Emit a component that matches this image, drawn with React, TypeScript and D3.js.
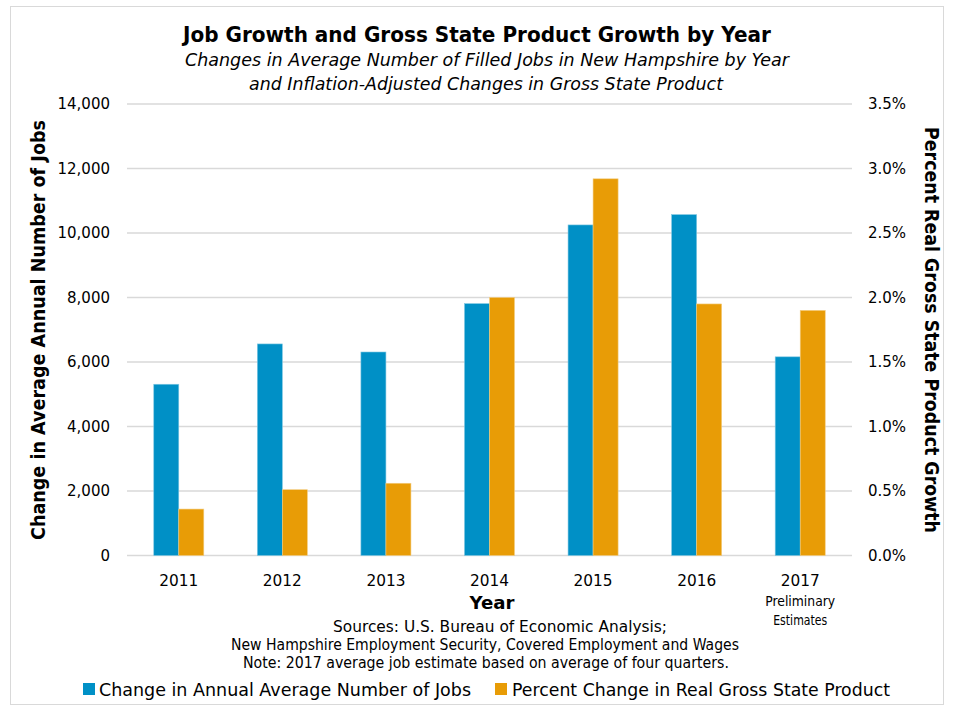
import React from "react";
import * as d3 from "d3";

const years = ["2011", "2012", "2013", "2014", "2015", "2016", "2017"];
const jobsChange = [5310, 6560, 6310, 7810, 10250, 10570, 6160];
const gspChange = [0.36, 0.51, 0.56, 2.0, 2.92, 1.95, 1.9];
const leftTicks = [0, 2000, 4000, 6000, 8000, 10000, 12000, 14000];
const rightTicks = [0, 0.5, 1.0, 1.5, 2.0, 2.5, 3.0, 3.5];
const seriesNames = ["Change in Annual Average Number of Jobs", "Percent Change in Real Gross State Product"];

const W = 953;
const H = 711;
const M = { left: 127, right: 852, top: 104, bottom: 555.5 };
const BLUE = "#0090c6";
const ORANGE = "#e89c06";
const FONT = "'DejaVu Sans', Verdana, sans-serif";

export default function App() {
  const x = d3.scaleBand<string>().domain(years).range([M.left, M.right]).padding(0);
  const inner = d3.scaleBand<string>().domain(["jobs", "gsp"]).range([0, x.bandwidth()]).paddingInner(0).paddingOuter(1.07);
  const yL = d3.scaleLinear().domain([0, 14000]).range([M.bottom, M.top]);
  const yR = d3.scaleLinear().domain([0, 3.5]).range([M.bottom, M.top]);
  const fmtL = d3.format(",");
  const fmtR = (v: number) => d3.format(".1f")(v) + "%";
  const c2017 = x("2017")! + x.bandwidth() / 2;

  return (
    <svg width={W} height={H} style={{ position: "absolute", left: 0, top: 0, background: "#fff" }} fontFamily={FONT}>
      <rect x={10.5} y={6.5} width={933} height={698} fill="#fff" stroke="#d9d9d9" strokeWidth={1} />
      {/* title */}
      <text x={477} y={42} textAnchor="middle" fontSize={21} fontWeight="bold" fill="#000" textLength={588} lengthAdjust="spacingAndGlyphs">
        Job Growth and Gross State Product Growth by Year
      </text>
      <text x={487} y={66} textAnchor="middle" fontSize={18} fontStyle="italic" fill="#000" textLength={604} lengthAdjust="spacingAndGlyphs">
        Changes in Average Number of Filled Jobs in New Hampshire by Year
      </text>
      <text x={486} y={90} textAnchor="middle" fontSize={18} fontStyle="italic" fill="#000" textLength={474} lengthAdjust="spacingAndGlyphs">
        and Inflation-Adjusted Changes in Gross State Product
      </text>

      {/* gridlines */}
      {leftTicks.map((t) => (
        <line key={"g" + t} x1={M.left} x2={M.right} y1={yL(t)} y2={yL(t)} stroke="#d9d9d9" strokeWidth={1.5} />
      ))}
      {/* left ticks */}
      {leftTicks.map((t) => (
        <text key={"l" + t} x={110} y={yL(t)} dy="0.35em" textAnchor="end" fontSize={15} fill="#000">
          {fmtL(t)}
        </text>
      ))}
      {rightTicks.map((t) => (
        <text key={"r" + t} x={868} y={yR(t)} dy="0.35em" textAnchor="start" fontSize={15} fill="#000">
          {fmtR(t)}
        </text>
      ))}

      {/* bars */}
      {years.map((yr, i) => {
        const x0 = x(yr)!;
        return (
          <g key={yr}>
            <rect x={x0 + inner("jobs")!} y={yL(jobsChange[i])} width={inner.bandwidth()} height={M.bottom - yL(jobsChange[i])} fill={BLUE} stroke="#7fc7e2" strokeWidth={0.6} />
            <rect x={x0 + inner("gsp")!} y={yR(gspChange[i])} width={inner.bandwidth()} height={M.bottom - yR(gspChange[i])} fill={ORANGE} stroke="#f3cd82" strokeWidth={0.6} />
          </g>
        );
      })}

      {/* x labels */}
      {years.map((yr) => (
        <text key={"x" + yr} x={x(yr)! + x.bandwidth() / 2} y={586} textAnchor="middle" fontSize={16} fill="#000" textLength={39} lengthAdjust="spacingAndGlyphs">
          {yr}
        </text>
      ))}
      <text x={c2017} y={606} textAnchor="middle" fontSize={14.5} fill="#000" textLength={70} lengthAdjust="spacingAndGlyphs">Preliminary</text>
      <text x={c2017} y={625} textAnchor="middle" fontSize={14.5} fill="#000" textLength={54} lengthAdjust="spacingAndGlyphs">Estimates</text>

      <text x={492} y={609} textAnchor="middle" fontSize={18} fontWeight="bold" fill="#000" textLength={45} lengthAdjust="spacingAndGlyphs">Year</text>

      <text x={333} y={632} textAnchor="start" fontSize={15} fill="#000" textLength={334} lengthAdjust="spacingAndGlyphs">Sources: U.S. Bureau of Economic Analysis;</text>
      <text x={231} y={650} textAnchor="start" fontSize={15} fill="#000" textLength={508} lengthAdjust="spacingAndGlyphs">New Hampshire Employment Security, Covered Employment and Wages</text>
      <text x={243} y={668} textAnchor="start" fontSize={15} fill="#000" textLength={486} lengthAdjust="spacingAndGlyphs">Note: 2017 average job estimate based on average of four quarters.</text>

      {/* axis titles */}
      <text transform="translate(45,330) rotate(-90)" textAnchor="middle" fontSize={19} fontWeight="bold" fill="#000" textLength={420} lengthAdjust="spacingAndGlyphs">
        Change in Average Annual Number of Jobs
      </text>
      <text transform="translate(925,330) rotate(90)" textAnchor="middle" fontSize={19} fontWeight="bold" fill="#000" textLength={406} lengthAdjust="spacingAndGlyphs">
        Percent Real Gross State Product Growth
      </text>

      {/* legend */}
      <rect x={83} y={683} width={12} height={12} fill={BLUE} />
      <text x={99} y={696} fontSize={18} fill="#000" textLength={372} lengthAdjust="spacingAndGlyphs">{seriesNames[0]}</text>
      <rect x={495} y={683} width={12} height={12} fill={ORANGE} />
      <text x={512} y={696} fontSize={18} fill="#000" textLength={378} lengthAdjust="spacingAndGlyphs">{seriesNames[1]}</text>
    </svg>
  );
}
